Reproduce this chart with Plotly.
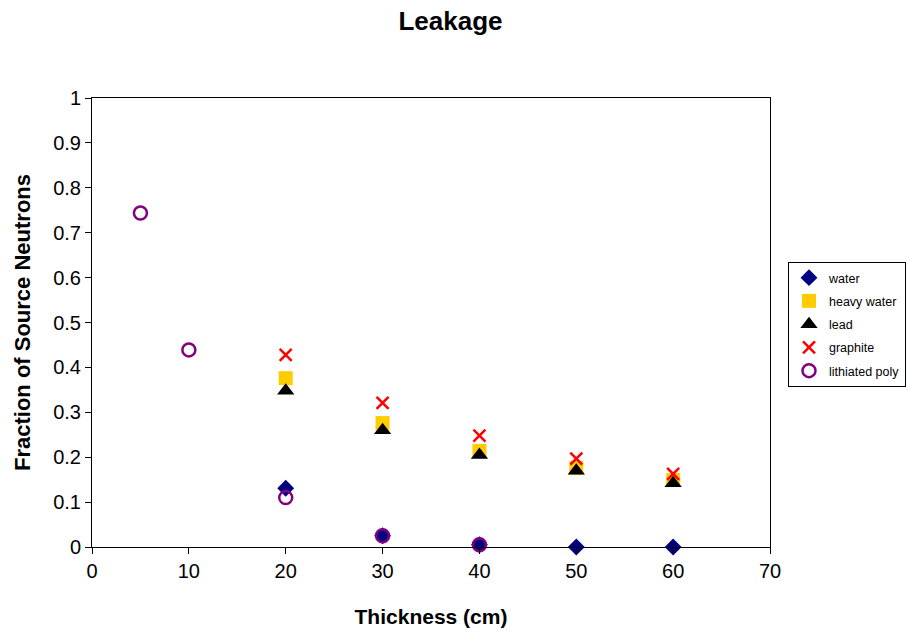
import plotly.graph_objects as go

# Leakage fraction of source neutrons vs. shield thickness
thickness_water = [20, 30, 40, 50, 60]
water = [0.131, 0.025, 0.005, 0.0, 0.0]

thickness_heavy = [20, 30, 40, 50, 60]
heavy_water = [0.376, 0.276, 0.214, 0.176, 0.149]

thickness_lead = [20, 30, 40, 50, 60]
lead = [0.348, 0.260, 0.205, 0.170, 0.142]

thickness_graphite = [20, 30, 40, 50, 60]
graphite = [0.428, 0.321, 0.248, 0.197, 0.163]

thickness_poly = [5, 10, 20, 30, 40]
lithiated_poly = [0.744, 0.439, 0.110, 0.025, 0.005]

x_ticks = [0, 10, 20, 30, 40, 50, 60, 70]
y_ticks = [0, 0.1, 0.2, 0.3, 0.4, 0.5, 0.6, 0.7, 0.8, 0.9, 1.0]
y_tick_text = ["0", "0.1", "0.2", "0.3", "0.4", "0.5", "0.6", "0.7", "0.8", "0.9", "1"]

FONT = "Arial, Liberation Sans, sans-serif"

fig = go.Figure()

series = [
    ("water", thickness_water, water,
     dict(symbol="diamond", size=13, color="#000080")),
    ("heavy water", thickness_heavy, heavy_water,
     dict(symbol="square", size=14, color="#FFCC00")),
    ("lead", thickness_lead, lead,
     dict(symbol="triangle-up", size=15, color="#000000")),
    ("graphite", thickness_graphite, graphite,
     dict(symbol="x-thin", size=12, color="#FF0000",
          line=dict(color="#FF0000", width=2.5))),
    ("lithiated poly", thickness_poly, lithiated_poly,
     dict(symbol="circle-open", size=13, color="#800080",
          line=dict(color="#800080", width=2.5))),
]

for name, xs, ys, marker in series:
    fig.add_trace(go.Scatter(
        x=xs, y=ys, name=name, mode="markers", marker=marker,
        legendgroup=name, cliponaxis=False,
    ))

fig.update_layout(
    width=910, height=632,
    paper_bgcolor="white", plot_bgcolor="white",
    margin=dict(l=92, r=140, t=98, b=85, autoexpand=False),
    font=dict(family=FONT, color="black"),
    title=dict(
        text="<b>Leakage</b>", x=0.495, xanchor="center",
        y=1 - 21 / 632, yanchor="middle", yref="container",
        font=dict(size=26, family=FONT, color="black"),
    ),
    xaxis=dict(
        range=[0, 70], tickvals=x_ticks, ticks="outside", ticklen=6,
        tickcolor="black", tickfont=dict(size=20, family=FONT),
        showgrid=False, zeroline=False, showline=True, linecolor="black",
        linewidth=1, mirror=True,
        title=dict(text="<b>Thickness (cm)</b>", font=dict(size=21, family=FONT),
                   standoff=28),
    ),
    yaxis=dict(
        range=[0, 1], tickvals=y_ticks, ticktext=y_tick_text, ticks="outside",
        ticklen=6, tickcolor="black", tickfont=dict(size=20, family=FONT),
        showgrid=False, zeroline=False, showline=True, linecolor="black",
        linewidth=1, mirror=True,
        title=dict(text="<b>Fraction of Source Neutrons</b>",
                   font=dict(size=22, family=FONT), standoff=16),
    ),
    legend=dict(
        xref="container", x=788 / 910, xanchor="left",
        y=(547 - 262) / 449, yanchor="top",
        bordercolor="black", borderwidth=1, bgcolor="white",
        font=dict(size=12.5, family=FONT, color="black"),
        tracegroupgap=4, itemwidth=30,
    ),
    showlegend=True,
)

fig.write_html("out.html")
